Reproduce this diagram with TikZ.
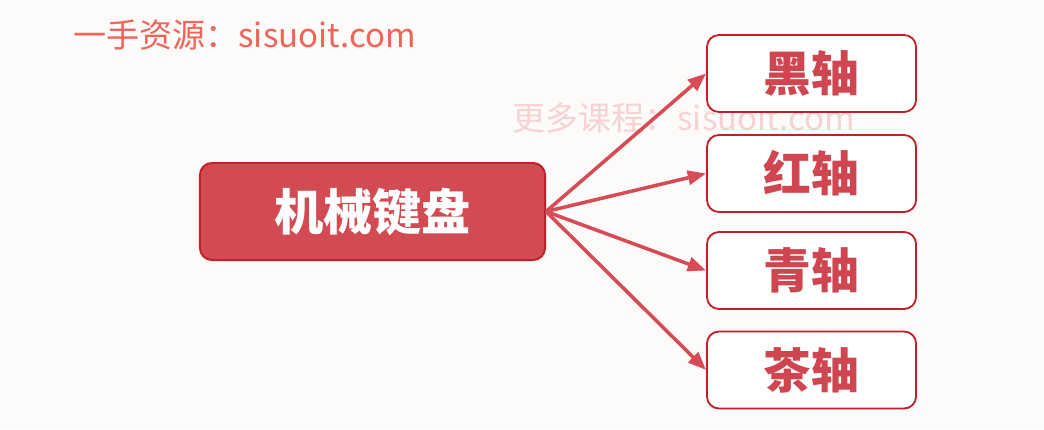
\documentclass[tikz,border=0pt]{standalone}
\usepackage{fontspec}
\usepackage{tikz}
\usetikzlibrary{positioning,arrows.meta}
\newfontfamily\cjk{Noto Sans CJK SC}
\definecolor{boxred}{HTML}{D24B52}
\definecolor{edgered}{HTML}{C0202A}
\definecolor{arrowred}{HTML}{D64B55}
\definecolor{textred}{HTML}{CF4550}
\definecolor{markred}{HTML}{F0645A}
\definecolor{markpink}{HTML}{F6D3D3}
\definecolor{paper}{HTML}{FCFBF9}

\begin{document}
\begin{tikzpicture}[x=0.025cm,y=-0.025cm,
    root/.style={draw=edgered,fill=boxred,line width=1.4pt,rounded corners=0.3cm,minimum width=8.625cm,minimum height=2.425cm,text=white,font=\cjk\bfseries\fontsize{35}{40}\selectfont},
    leaf/.style={draw=edgered,fill=white,line width=1.3pt,rounded corners=0.3cm,minimum width=5.225cm,minimum height=1.925cm,text=textred,font=\cjk\bfseries\fontsize{34}{40}\selectfont},
    watermark/.style={anchor=west,inner sep=0pt,font=\cjk\fontsize{23.5}{28}\selectfont},
    link/.style={draw=arrowred,line width=2.5pt,-{Triangle[length=13pt,width=10pt]}}]
      \fill[paper] (0,0) rectangle (1044,429);
      \useasboundingbox (0,0) rectangle (1044,429);

      \node[watermark,text=markred] (top) at (73,35) {一手资源：sisuoit.com};
      \node[watermark,text=markpink] (mid) at (512,118) {更多课程：sisuoit.com};

      \node[root] (kb) at (372.5,211.5) {机械键盘};

      \node[leaf] (hei) at (811.5,73.5) {黑轴};
      \node[leaf] (hong) at (811.5,173.5) {红轴};
      \node[leaf] (qing) at (811.5,270.5) {青轴};
      \node[leaf] (cha) at (811.5,370) {茶轴};

      \draw[link] (kb.east) -- (hei.west);
      \draw[link] (kb.east) -- (hong.west);
      \draw[link] (kb.east) -- (qing.west);
      \draw[link] (kb.east) -- (cha.west);
    \end{tikzpicture}
\end{document}
